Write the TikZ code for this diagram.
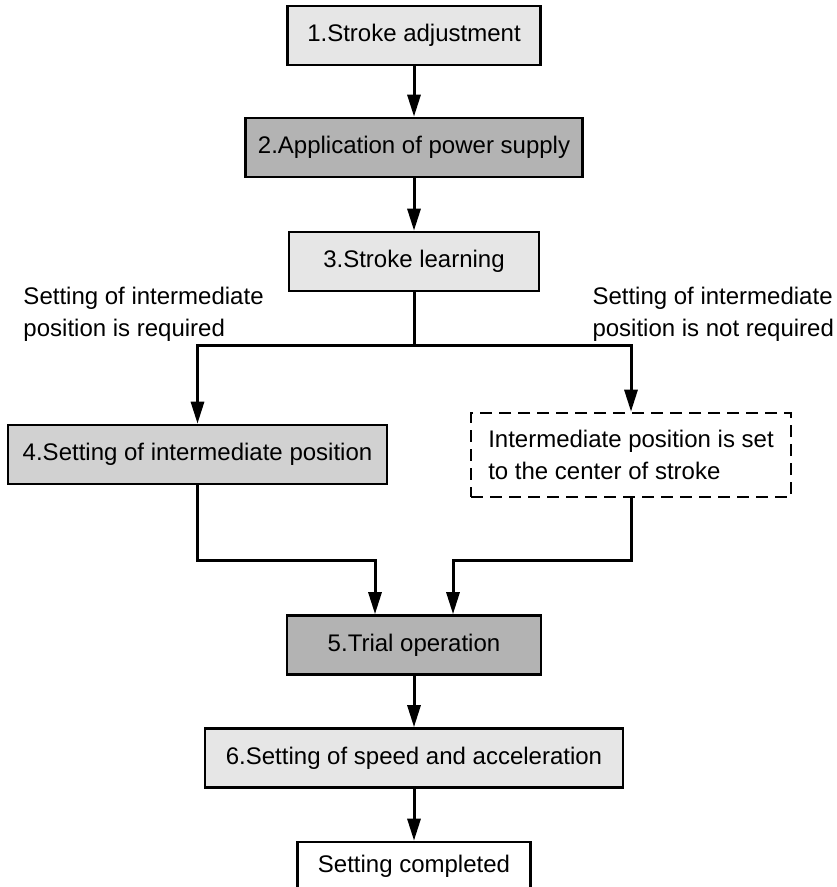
\documentclass[tikz,border=0pt]{standalone}
\usepackage{fontspec}
\setmainfont{Liberation Sans}
\usetikzlibrary{arrows.meta}
\definecolor{lightfill}{HTML}{E6E6E6}
\definecolor{midfill}{HTML}{D1D1D1}
\definecolor{darkfill}{HTML}{B3B3B3}

\begin{document}
\begin{tikzpicture}[x=0.5pt,y=-0.5pt,>={Triangle[length=11pt,width=6.5pt]},
  line width=1.5pt,every node/.style={font=\fontsize{12}{16}\selectfont},
  box node/.style={rectangle,draw,line width=1.3pt,minimum height=29.5pt},
  light node/.style={box node,fill=lightfill},
  mid node/.style={box node,fill=midfill},
  dark node/.style={box node,fill=darkfill},
  plain node/.style={box node,fill=white},
  dash node/.style={box node,dash pattern=on 6pt off 3.5pt,align=left,minimum height=42pt},
  label node/.style={align=left,inner sep=0pt,anchor=west}]

  \useasboundingbox (0,0) rectangle (836,887);

  \node[light node,minimum width=126.5pt] (1) at (414,35.5) {1.Stroke adjustment};
  \node[dark node,minimum width=168.5pt] (2) at (414,147.5) {2.Application of power supply};
  \node[light node,minimum width=125pt] (3) at (414,261.5) {3.Stroke learning};
  \node[mid node,minimum width=189.5pt] (4) at (197.5,454.5) {4.Setting of intermediate position};
  \node[dash node,minimum width=160pt] (mid) at (631,455) {Intermediate position is set\\to the center of stroke};
  \node[dark node,minimum width=127pt] (5) at (414,645) {5.Trial operation};
  \node[light node,minimum width=209pt] (6) at (414,758) {6.Setting of speed and acceleration};
  \node[plain node,minimum width=116.5pt,minimum height=24pt] (done) at (414,866) {Setting completed};

  \node[label node] (req) at (22,314) {Setting of intermediate\\position is required};
  \node[label node] (noreq) at (591,314) {Setting of intermediate\\position is not required};

  \path[->] (1) edge (2)
            (2) edge (3)
            (5) edge (6)
            (6) edge (done);

  % branch after stroke learning
  \coordinate (split) at (414,345);
  \draw (3) -- (split);
  \draw[->] (split) -| (4.north);
  \draw[->] (split) -| (mid.north);

  % both ways join at trial operation
  \coordinate (joinL) at (375,560);
  \coordinate (joinR) at (453,560);
  \draw[->] (4.south) |- (joinL) -- (joinL |- 5.north);
  \draw[->] (mid.south) |- (joinR) -- (joinR |- 5.north);
\end{tikzpicture}
\end{document}
